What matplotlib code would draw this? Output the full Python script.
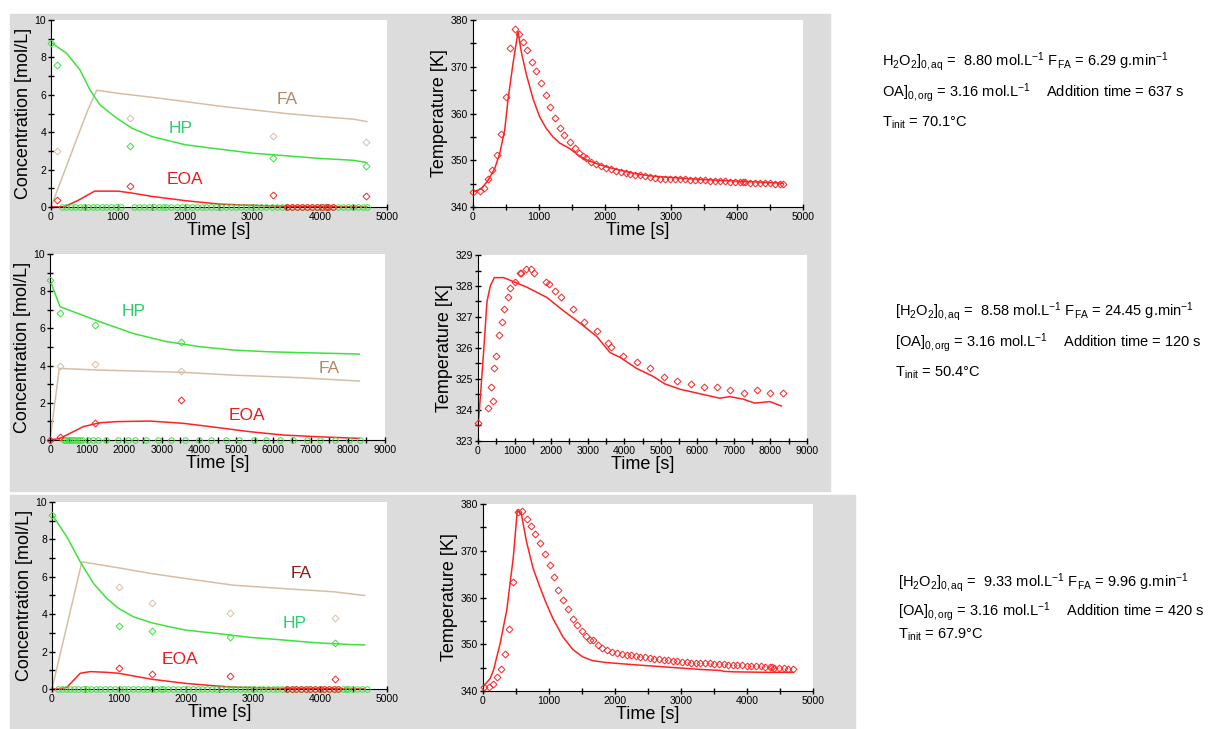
import matplotlib
matplotlib.use("Agg")
import matplotlib.pyplot as plt
from matplotlib.patches import Rectangle
from matplotlib.ticker import MultipleLocator

plt.rcParams['font.family'] = ['Liberation Sans', 'DejaVu Sans']
plt.rcParams['mathtext.fontset'] = 'custom'
plt.rcParams['mathtext.rm'] = 'Liberation Sans'
plt.rcParams['mathtext.it'] = 'Liberation Sans'
plt.rcParams['mathtext.default'] = 'rm'

GREEN = '#3ee23e'
TAN = '#d6bea6'
RED = '#ff2222'

# ---- run 1 (top row) ----
hp1_t = [0, 233, 432, 581, 730, 978, 1202, 1500, 2000, 2500, 3000, 3500, 4000, 4500, 4700]
hp1_c = [8.8, 8.22, 7.33, 6.26, 5.46, 4.75, 4.22, 3.77, 3.33, 3.1, 2.88, 2.74, 2.6, 2.5, 2.38]
fa1_t = [0, 200, 400, 550, 680, 1000, 1500, 2000, 2500, 3000, 3500, 4000, 4500, 4700]
fa1_c = [0, 1.9, 3.8, 5.2, 6.25, 6.08, 5.87, 5.64, 5.4, 5.2, 5.0, 4.84, 4.7, 4.57]
eoa1_t = [0, 200, 400, 650, 1000, 1200, 1500, 2000, 2500, 3000, 3500, 4000, 4700]
eoa1_c = [0, 0.02, 0.35, 0.85, 0.85, 0.75, 0.57, 0.34, 0.16, 0.09, 0.04, 0.02, 0.0]
samp1_t = [0, 94, 1177, 3302, 4687]
hp1_exp = [8.75, 7.6, 3.25, 2.63, 2.18]
fa1_exp = [None, 3.0, 4.75, 3.78, 3.5]
eoa1_exp = [None, 0.35, 1.1, 0.66, 0.61]

temp1_t = [0, 100, 167, 227, 293, 364, 429, 495, 556, 631, 692, 753, 818, 894, 960, 1035,
           1111, 1172, 1237, 1313, 1379, 1465, 1540, 1606, 1667, 1717, 1793, 1869, 1944,
           2020, 2096, 2172, 2247, 2313, 2384, 2449, 2525, 2601, 2677, 2753, 2828, 2904,
           2980, 3056, 3131, 3207, 3283, 3359, 3434, 3510, 3586, 3662, 3737, 3813, 3889,
           3965, 4040, 4090, 4116, 4192, 4268, 4343, 4419, 4495, 4571, 4646, 4697]
temp1_exp = [343.2, 343.4, 344.1, 345.9, 347.9, 351.1, 355.7, 363.6, 374.1, 378.0, 377.0,
             375.3, 373.6, 371.1, 369.1, 366.6, 363.9, 361.4, 359.1, 357.0, 355.4, 353.9,
             352.7, 351.6, 350.9, 350.4, 349.6, 349.1, 348.8, 348.4, 348.1, 347.8, 347.6,
             347.3, 347.1, 346.9, 346.8, 346.6, 346.4, 346.3, 346.1, 346.1, 346.0, 345.9,
             345.9, 345.9, 345.8, 345.8, 345.7, 345.7, 345.6, 345.6, 345.5, 345.5, 345.4,
             345.4, 345.3, 345.3, 345.3, 345.2, 345.2, 345.1, 345.1, 345.1, 345.0, 345.0, 344.9]
temp1_mt = [0, 126, 227, 328, 404, 480, 530, 606, 682, 732, 808, 909, 1010, 1111, 1212,
            1313, 1465, 1616, 1717, 1869, 2020, 2222, 2475, 2727, 3232, 3737, 4242, 4697]
temp1_model = [343.2, 343.9, 345.7, 348.2, 351.4, 356.4, 362.9, 370.7, 377.5, 373.2, 368.4,
               363.2, 359.3, 356.8, 355.0, 353.7, 352.5, 350.9, 350.1, 349.3, 348.6, 347.9,
               347.1, 346.6, 346.1, 345.7, 345.4, 345.1]

# ---- run 2 (middle row) ----
hp2_t = [0, 268, 626, 1340, 2234, 3128, 3575, 4021, 4915, 5809, 6703, 7596, 8311]
hp2_c = [8.6, 7.17, 6.9, 6.36, 5.73, 5.29, 5.16, 5.02, 4.84, 4.75, 4.7, 4.66, 4.62]
fa2_t = [0, 250, 1340, 3575, 4915, 6703, 8311]
fa2_c = [0, 3.85, 3.76, 3.64, 3.49, 3.35, 3.17]
eoa2_t = [0, 268, 894, 1340, 1787, 2681, 3575, 4468, 5362, 6256, 7150, 8311]
eoa2_c = [0, 0.09, 0.72, 0.93, 0.99, 1.02, 0.9, 0.68, 0.45, 0.27, 0.18, 0.09]
samp2_t = [0, 268, 1206, 3530]
hp2_exp = [8.6, 6.81, 6.18, 5.29]
fa2_exp = [None, 4.0, 4.09, 3.73]
eoa2_exp = [0.0, 0.18, 0.9, 2.15]
zero2_t = [380, 400, 450, 500, 560, 620, 680, 740, 800, 860, 1030, 1160, 1300, 1500, 1830,
           2100, 2280, 2590, 2900, 3260, 3620, 4000, 4330, 4740, 5090, 5470, 5810, 6190,
           6540, 6900, 7260, 7660, 8020, 8330]

temp2_t = [0, 273, 355, 410, 428, 491, 582, 664, 719, 819, 883, 1001, 1137, 1183, 1319,
           1456, 1520, 1856, 1938, 2111, 2275, 2593, 2912, 3249, 3549, 3631, 3958, 4340,
           4704, 5077, 5432, 5823, 6187, 6551, 6888, 7279, 7643, 7998, 8344]
temp2_exp = [323.57, 324.05, 324.75, 324.3, 325.34, 325.74, 326.42, 326.84, 327.25, 327.66,
             327.92, 328.14, 328.43, 328.43, 328.55, 328.55, 328.43, 328.14, 328.05, 327.85,
             327.66, 327.25, 326.85, 326.56, 326.15, 326.04, 325.75, 325.56, 325.34, 325.05,
             324.92, 324.84, 324.75, 324.75, 324.65, 324.56, 324.65, 324.56, 324.56]
temp2_mt = [0, 45, 155, 246, 337, 446, 701, 974, 1338, 1520, 1883, 2339, 2794, 3249, 3613,
            3885, 4340, 4795, 5114, 5523, 6160, 6615, 6888, 7252, 7570, 7980, 8298]
temp2_model = [323.46, 324.1, 325.9, 327.5, 328.0, 328.27, 328.27, 328.14, 327.96, 327.85,
               327.63, 327.2, 326.8, 326.37, 325.85, 325.7, 325.34, 325.08, 324.84, 324.67,
               324.5, 324.38, 324.43, 324.35, 324.22, 324.27, 324.13]

# ---- run 3 (bottom row) ----
hp3_t = [0, 223, 422, 621, 819, 993, 1216, 1490, 1713, 1991, 2458, 2954, 3451, 3947, 4444, 4667]
hp3_c = [9.34, 8.13, 6.8, 5.64, 4.84, 4.31, 3.86, 3.54, 3.36, 3.15, 2.97, 2.76, 2.62, 2.47, 2.38, 2.35]
fa3_t = [0, 447, 993, 1490, 1991, 2706, 3451, 4196, 4667]
fa3_c = [0, 6.8, 6.48, 6.17, 5.91, 5.55, 5.37, 5.2, 5.0]
eoa3_t = [0, 100, 223, 422, 571, 819, 993, 1490, 1991, 2458, 2706, 3500, 4667]
eoa3_c = [0, 0, 0.09, 0.84, 0.93, 0.89, 0.84, 0.52, 0.3, 0.16, 0.1, 0.03, 0.0]
samp3_t = [0, 1003, 1490, 2657, 4231]
hp3_exp = [9.29, 3.36, 3.1, 2.79, 2.47]
fa3_exp = [None, 5.46, 4.6, 4.04, 3.77]
eoa3_exp = [None, 1.14, 0.82, 0.71, 0.52]

temp3_t = [10, 85, 150, 210, 270, 335, 395, 460, 525, 585, 660, 720, 785, 860, 935, 1010,
           1070, 1135, 1210, 1285, 1360, 1420, 1495, 1560, 1620, 1660, 1735, 1810, 1885,
           1960, 2035, 2105, 2175, 2245, 2315, 2385, 2455, 2525, 2595, 2665, 2735, 2805,
           2875, 2945, 3015, 3085, 3155, 3225, 3295, 3365, 3435, 3505, 3575, 3645, 3715,
           3785, 3855, 3925, 3995, 4065, 4135, 4205, 4275, 4345, 4385, 4415, 4485, 4555,
           4625, 4700]
temp3_exp = [340.9, 340.9, 341.6, 342.9, 344.8, 347.9, 353.3, 363.4, 378.3, 378.6, 376.9,
             375.3, 373.6, 371.6, 369.4, 366.9, 364.3, 361.7, 359.5, 357.5, 355.5, 354.1,
             352.8, 351.8, 351.0, 350.9, 349.8, 349.1, 348.8, 348.4, 348.2, 348.0, 347.8,
             347.6, 347.5, 347.3, 347.2, 347.0, 346.9, 346.8, 346.7, 346.6, 346.5, 346.4,
             346.3, 346.2, 346.1, 346.1, 346.0, 345.9, 345.9, 345.8, 345.7, 345.7, 345.6,
             345.6, 345.5, 345.5, 345.4, 345.4, 345.3, 345.3, 345.2, 345.1, 345.1, 345.0,
             345.0, 344.9, 344.8, 344.7]
temp3_mt = [0, 110, 160, 260, 360, 460, 520, 585, 660, 760, 860, 960, 1060, 1210, 1360,
            1510, 1660, 1860, 2310, 2810, 3310, 3600, 3650, 3810, 4310, 4700]
temp3_model = [340.9, 342.7, 344.5, 350.2, 357.3, 368.7, 378.7, 377.6, 371.9, 366.2, 362.3,
               358.7, 355.5, 351.6, 348.9, 347.3, 346.5, 346.1, 345.6, 345.1, 344.6, 344.4,
               344.2, 344.1, 344.0, 344.0]

info = [
    [r"H$_2$O$_2$]$_{0,aq}$ =  8.80 mol.L$^{-1}$ F$_{FA}$ = 6.29 g.min$^{-1}$",
     r"OA]$_{0,org}$ = 3.16 mol.L$^{-1}$    Addition time = 637 s",
     r"T$_{init}$ = 70.1°C"],
    [r"[H$_2$O$_2$]$_{0,aq}$ =  8.58 mol.L$^{-1}$ F$_{FA}$ = 24.45 g.min$^{-1}$",
     r"[OA]$_{0,org}$ = 3.16 mol.L$^{-1}$    Addition time = 120 s",
     r"T$_{init}$ = 50.4°C"],
    [r"[H$_2$O$_2$]$_{0,aq}$ =  9.33 mol.L$^{-1}$ F$_{FA}$ = 9.96 g.min$^{-1}$",
     r"[OA]$_{0,org}$ = 3.16 mol.L$^{-1}$    Addition time = 420 s",
     r"T$_{init}$ = 67.9°C"],
]


def setup(ax, xmax, ymin, ymax, ystep, ylabel):
    ax.set_xlim(0, xmax)
    ax.set_ylim(ymin, ymax)
    ax.xaxis.set_major_locator(MultipleLocator(1000))
    ax.xaxis.set_minor_locator(MultipleLocator(500))
    ax.yaxis.set_major_locator(MultipleLocator(ystep))
    ax.yaxis.set_minor_locator(MultipleLocator(ystep / 2))
    ax.spines['top'].set_visible(False)
    ax.spines['right'].set_visible(False)
    ax.tick_params(which='major', direction='inout', length=5, width=1, labelsize=7.5, pad=1)
    ax.tick_params(which='minor', direction='inout', length=4, width=1)
    ax.set_xlabel("Time [s]", fontsize=13, labelpad=0)
    ax.set_ylabel(ylabel, fontsize=13, labelpad=2)


def exp_pts(ax, t, vals, color):
    pts = [(a, b) for a, b in zip(t, vals) if b is not None]
    ax.plot([p[0] for p in pts], [p[1] for p in pts], 'D', ms=3.5, mfc='none',
            mec=color, mew=0.7, clip_on=False, zorder=4)


def zero_pts(ax, t, color):
    ax.plot(t, [0] * len(t), 'o', ms=4, mfc='none', mec=color, mew=0.7,
            clip_on=False, zorder=3)


fig = plt.figure(figsize=(12.2, 7.29), dpi=100)
fig.patches.append(Rectangle((10 / 1220, 1 - 491 / 729), 820 / 1220, 477 / 729,
                             transform=fig.transFigure, color='#dcdcdc', zorder=-10))
fig.patches.append(Rectangle((10 / 1220, 0), 845 / 1220, 234 / 729,
                             transform=fig.transFigure, color='#dcdcdc', zorder=-10))

ax1 = fig.add_axes([0.0418, 0.716, 0.2754, 0.2565])
ax2 = fig.add_axes([0.3877, 0.716, 0.2705, 0.2565])
ax3 = fig.add_axes([0.0410, 0.3964, 0.2746, 0.2551])
ax4 = fig.add_axes([0.3918, 0.3951, 0.2697, 0.2551])
ax5 = fig.add_axes([0.0426, 0.0549, 0.2746, 0.2565])
ax6 = fig.add_axes([0.3959, 0.0521, 0.2705, 0.2565])

# concentration panels
conc = [
    (ax1, 5000, hp1_t, hp1_c, fa1_t, fa1_c, eoa1_t, eoa1_c, samp1_t, hp1_exp, fa1_exp, eoa1_exp),
    (ax3, 9000, hp2_t, hp2_c, fa2_t, fa2_c, eoa2_t, eoa2_c, samp2_t, hp2_exp, fa2_exp, eoa2_exp),
    (ax5, 5000, hp3_t, hp3_c, fa3_t, fa3_c, eoa3_t, eoa3_c, samp3_t, hp3_exp, fa3_exp, eoa3_exp),
]
for ax, xmax, ht, hc, ft, fc, et, ec, st, he, fe, ee in conc:
    ax.plot(ft, fc, color=TAN, lw=1.1)
    ax.plot(ht, hc, color=GREEN, lw=1.1)
    ax.plot(et, ec, color=RED, lw=1.1)
    exp_pts(ax, st, fe, TAN)
    exp_pts(ax, st, he, GREEN)
    exp_pts(ax, st, ee, RED)
    setup(ax, xmax, 0, 10, 2, "Concentration [mol/L]")

zero_pts(ax1, [t for t in temp1_t if t > 120 and not 1100 < t < 1230], GREEN)
zero_pts(ax1, [t for t in temp1_t if 3500 < t < 4250], RED)
zero_pts(ax3, zero2_t, GREEN)
zero_pts(ax5, [t for t in temp3_t if t > 40], GREEN)
zero_pts(ax5, [t for t in temp3_t if 3500 < t < 4300], RED)

ax1.text(3510, 5.73, "FA", color='#b08866', fontsize=12.5, ha='center', va='center')
ax1.text(1922, 4.2, "HP", color='#2ccf6a', fontsize=12.5, ha='center', va='center')
ax1.text(1996, 1.46, "EOA", color='#f01818', fontsize=12.5, ha='center', va='center')
ax3.text(2234, 6.9, "HP", color='#2ccf6a', fontsize=12.5, ha='center', va='center')
ax3.text(7506, 3.84, "FA", color='#b08866', fontsize=12.5, ha='center', va='center')
ax3.text(5300, 1.34, "EOA", color='#f01818', fontsize=12.5, ha='center', va='center')
ax5.text(3714, 6.17, "FA", color='#8e1c1c', fontsize=12.5, ha='center', va='center')
ax5.text(3625, 3.5, "HP", color='#2ccf6a', fontsize=12.5, ha='center', va='center')
ax5.text(1912, 1.55, "EOA", color='#f01818', fontsize=12.5, ha='center', va='center')

# temperature panels
temps = [
    (ax2, 5000, 340, 380, 10, temp1_t, temp1_exp, temp1_mt, temp1_model),
    (ax4, 9000, 323, 329, 1, temp2_t, temp2_exp, temp2_mt, temp2_model),
    (ax6, 5000, 340, 380, 10, temp3_t, temp3_exp, temp3_mt, temp3_model),
]
for ax, xmax, y0, y1, ys, tt, te, mt, mv in temps:
    ax.plot(mt, mv, color=RED, lw=1.1)
    ax.plot(tt, te, 'D', ms=3.5, mfc='none', mec=RED, mew=0.7, clip_on=False, zorder=4)
    setup(ax, xmax, y0, y1, ys, "Temperature [K]")

# experimental conditions
xs = [0.723, 0.7336, 0.736]
ys = [[0.9095, 0.867, 0.826], [0.5665, 0.525, 0.484], [0.196, 0.155, 0.1235]]
for block, x, yl in zip(info, xs, ys):
    for line, y in zip(block, yl):
        fig.text(x, y, line, fontsize=10.5, ha='left', va='baseline')

fig.savefig("out.png", dpi=100, facecolor='white')
